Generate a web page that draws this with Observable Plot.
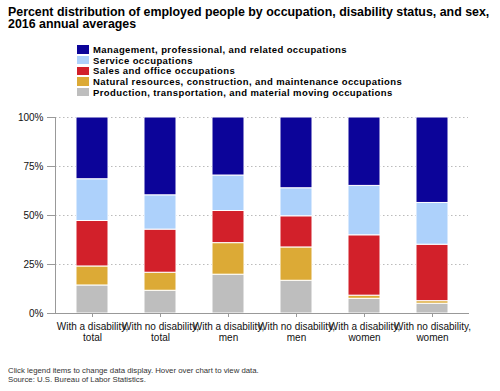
<!DOCTYPE html>
<html>
<head>
<meta charset="utf-8">
<script src="https://cdn.jsdelivr.net/npm/d3@7"></script>
<script src="https://cdn.jsdelivr.net/npm/@observablehq/plot@0.6"></script>
<style>
  html, body { margin: 0; padding: 0; background: #fff; }
  body { position: relative; width: 500px; height: 391px; overflow: hidden; font-family: "Liberation Sans", Arial, sans-serif; color: #000; }
  #chart { position: absolute; left: 0; top: 0; }
  #title { position: absolute; left: 8px; top: 5.5px; font-size: 12.4px; font-weight: bold; line-height: 12.8px; white-space: nowrap; }
  #legend { position: absolute; left: 77px; top: 45px; }
  .row { height: 10.67px; line-height: 10.67px; font-size: 9.5px; font-weight: bold; letter-spacing: 0.4px; white-space: nowrap; position: relative; padding-left: 16px; }
  .sw { position: absolute; left: 0; top: 0.3px; width: 12px; height: 8.5px; }
  #caption { position: absolute; left: 8px; top: 366px; font-size: 7.8px; line-height: 9.3px; color: #333; white-space: nowrap; }
</style>
</head>
<body>
<div id="title">Percent distribution of employed people by occupation, disability status, and sex,<br>2016 annual averages</div>
<div id="legend"></div>
<div id="chart"></div>
<div id="caption">Click legend items to change data display. Hover over chart to view data.<br>Source: U.S. Bureau of Labor Statistics.</div>
<script>
// Categories (x axis)
const categories = [
  "With a disability,\ntotal",
  "With no disability,\ntotal",
  "With a disability,\nmen",
  "With no disability,\nmen",
  "With a disability,\nwomen",
  "With no disability,\nwomen"
];

// Occupation series, listed bottom to top of each stack
const occupations = [
  "Production, transportation, and material moving occupations",
  "Natural resources, construction, and maintenance occupations",
  "Sales and office occupations",
  "Service occupations",
  "Management, professional, and related occupations"
];
const colors = ["#bebebe", "#dcaa36", "#d2202a", "#add1fb", "#0c0499"];

// Percent values per occupation, per category
const production = [14.3, 11.6, 19.8, 16.7, 7.5, 5.0];
const natural    = [9.7, 9.2, 16.1, 17.0, 1.6, 1.3];
const sales      = [23.2, 22.0, 16.4, 15.9, 30.8, 28.8];
const service    = [21.3, 17.5, 18.1, 14.3, 25.2, 21.3];
const management = [31.5, 39.7, 29.6, 36.1, 34.9, 43.6];

const yTicks = [0, 25, 50, 75, 100];

const series = [production, natural, sales, service, management];
const data = [];
occupations.forEach((occ, i) => {
  categories.forEach((cat, j) => data.push({cat, occ, value: series[i][j]}));
});

// Legend (top to bottom: reverse of stack order)
const legend = document.getElementById("legend");
occupations.slice().reverse().forEach(occ => {
  const i = occupations.indexOf(occ);
  const row = document.createElement("div");
  row.className = "row";
  const sw = document.createElement("span");
  sw.className = "sw";
  sw.style.background = colors[i];
  row.appendChild(sw);
  row.appendChild(document.createTextNode(occ));
  legend.appendChild(row);
});

const chart = Plot.plot({
  width: 500,
  height: 350,
  marginTop: 117,
  marginBottom: 37,
  marginLeft: 55,
  marginRight: 32,
  style: {fontFamily: "Liberation Sans, Arial, sans-serif", fontSize: "10px", color: "#111", background: "transparent"},
  x: {domain: categories, paddingInner: 0.536, paddingOuter: 0.268, label: null},
  y: {domain: [0, 100], label: null},
  color: {domain: occupations, range: colors},
  marks: [
    Plot.gridY(yTicks.filter(d => d > 0), {stroke: "#bbb", strokeOpacity: 1, strokeDasharray: "1.5,2.5"}),
    Plot.barY(data, {x: "cat", y: "value", fill: "occ", stroke: "white", strokeWidth: 1}),
    Plot.axisY({ticks: yTicks, tickFormat: d => d + "%", tickSize: 8, tickPadding: 4, stroke: "#999", fill: "#111", label: null}),
    Plot.axisX({tickSize: 4, tickPadding: 5, lineHeight: 1.1, stroke: "#999", fill: "#111", label: null}),
    Plot.frame({anchor: "left", stroke: "#999"}),
    Plot.frame({anchor: "bottom", stroke: "#999"})
  ]
});
document.getElementById("chart").appendChild(chart);
</script>
</body>
</html>
